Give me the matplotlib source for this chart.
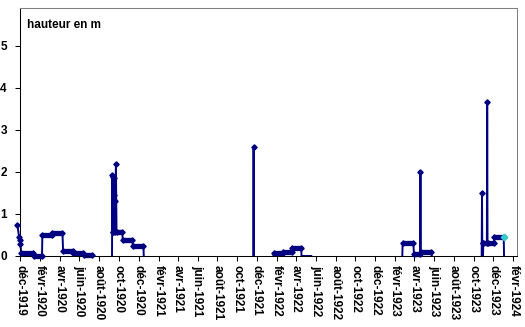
import matplotlib
matplotlib.use('Agg')
import matplotlib.pyplot as plt
import pandas as pd

plt.rcParams['font.family'] = ['Liberation Sans', 'DejaVu Sans']

NAVY = '#000080'
TURQ = '#33CCCC'
nan = float('nan')

# releves : date, hauteur en m
# palier = 1 -> releves quotidiens constants jusqu'au point suivant
# nan -> pas de releve (coupure de la courbe)
dates = [
    '1919-11-23', '1919-11-28', '1919-11-30', '1919-12-02', '1919-12-05',
    '1920-01-10', '1920-01-12', '1920-02-07', '1920-02-08', '1920-03-08',
    '1920-03-10', '1920-04-10', '1920-04-12', '1920-05-12', '1920-05-14',
    '1920-06-13', '1920-06-15', '1920-07-09', '1920-07-10', '1920-07-10',
    '1920-09-10', '1920-09-11', '1920-09-12', '1920-09-13', '1920-09-14',
    '1920-09-15', '1920-09-16', '1920-09-17', '1920-09-18', '1920-09-19',
    '1920-09-20', '1920-09-22', '1920-09-24', '1920-10-12', '1920-10-13',
    '1920-11-12', '1920-11-13', '1920-12-16', '1920-12-17', '1920-12-17',
    '1921-11-20', '1921-11-21', '1921-11-22', '1921-11-22',
    '1922-01-21', '1922-01-22', '1922-02-20', '1922-02-21', '1922-03-18',
    '1922-03-19', '1922-04-17', '1922-04-18', '1922-05-18', '1922-05-18',
    '1923-02-23', '1923-02-24', '1923-03-29', '1923-03-31', '1923-04-19',
    '1923-04-20', '1923-04-21', '1923-05-24', '1923-05-25', '1923-05-25',
    '1923-10-26', '1923-10-27', '1923-10-28', '1923-10-29', '1923-10-30',
    '1923-10-31', '1923-11-11', '1923-11-12', '1923-11-13', '1923-12-03',
    '1923-12-04', '1924-01-02', '1924-01-03',
]
hauteur = [
    0.74, 0.46, 0.37, 0.29, 0.06,
    0.06, 0.01, 0.01, 0.50, 0.50,
    0.555, 0.555, 0.13, 0.13, 0.08,
    0.08, 0.03, 0.03, 0.0, nan,
    0.0, 1.93, 0.56, 1.88, 0.58,
    1.85, 0.60, 1.45, 0.60, 1.30,
    0.56, 2.19, 0.56, 0.56, 0.38,
    0.38, 0.24, 0.24, 0.0, nan,
    0.0, 2.60, 0.0, nan,
    0.0, 0.07, 0.07, 0.10, 0.10,
    0.20, 0.20, 0.0, 0.0, nan,
    0.0, 0.30, 0.30, 0.05, 0.05,
    1.99, 0.09, 0.09, 0.0, nan,
    0.0, 1.49, 0.0, 0.30, 0.0,
    0.30, 0.30, 3.67, 0.30, 0.30,
    0.46, 0.46, 0.0,
]
palier = [
    0, 0, 0, 0, 1,
    0, 1, 0, 1, 0,
    1, 0, 1, 0, 1,
    0, 1, 0, 0, 0,
    0, 0, 0, 0, 0,
    0, 0, 0, 0, 0,
    0, 0, 1, 0, 1,
    0, 1, 0, 0, 0,
    0, 0, 0, 0,
    0, 1, 0, 1, 0,
    1, 0, 0, 0, 0,
    0, 1, 0, 1, 0,
    0, 1, 0, 0, 0,
    0, 0, 0, 0, 0,
    1, 0, 0, 1, 0,
    1, 0, 0,
]

mois = {12: 'déc', 2: 'févr', 4: 'avr', 6: 'juin', 8: 'août', 10: 'oct'}
tick_dates = pd.date_range('1919-12-01', '1924-02-01', freq='2MS')
tick_labels = [mois[t.month] + '-' + str(t.year) for t in tick_dates]

d = pd.to_datetime(dates)

fig = plt.figure(figsize=(5.25, 3.27), dpi=100)
ax = fig.add_axes([20 / 525, 1 - 256 / 327, 497 / 525, 248 / 327])

# courbe fine
ax.plot(d, hauteur, color=NAVY, lw=1.4, clip_on=False, zorder=2)

# paliers (marqueurs serres)
for i in range(len(d) - 1):
    if palier[i]:
        ax.plot([d[i], d[i + 1]], [hauteur[i], hauteur[i + 1]], color=NAVY,
                lw=3.8, solid_capstyle='butt', clip_on=False, zorder=2)

# marqueurs
idx = [i for i in range(len(d)) if hauteur[i] == hauteur[i] and
       (hauteur[i] > 0 or palier[i] or (i > 0 and palier[i - 1]))]
ax.plot(d[idx], [hauteur[i] for i in idx], ls='none', marker='D', ms=2.7,
        color=NAVY, clip_on=False, zorder=3)

# dernier releve
last = max(i for i in range(len(d)) if hauteur[i] > 0)
ax.plot([d[last]], [hauteur[last]], ls='none', marker='D', ms=3.3,
        color=TURQ, clip_on=False, zorder=4)

ax.set_xlim(pd.Timestamp('1919-12-01'), pd.Timestamp('1924-02-12'))
ax.set_ylim(0, 5.9)
ax.set_yticks(range(0, 6))
ax.set_yticklabels([str(v) for v in range(0, 6)], fontsize=8.5, fontweight='bold')
ax.set_xticks(tick_dates)
ax.set_xticklabels(tick_labels, rotation=270, fontsize=8.5, fontweight='bold')
ax.tick_params(axis='y', direction='out', length=3.5, width=0.75, pad=6)
ax.tick_params(axis='x', direction='out', length=3.5, width=0.75, pad=3)

for s in ['left', 'bottom']:
    ax.spines[s].set_color('black')
    ax.spines[s].set_linewidth(0.75)
for s in ['top', 'right']:
    ax.spines[s].set_color('#808080')
    ax.spines[s].set_linewidth(0.75)

ax.text(0.0135, 0.93, 'hauteur en m', transform=ax.transAxes, fontsize=8.5,
        fontweight='bold', va='center', ha='left')

fig.savefig('out.png', dpi=100)
